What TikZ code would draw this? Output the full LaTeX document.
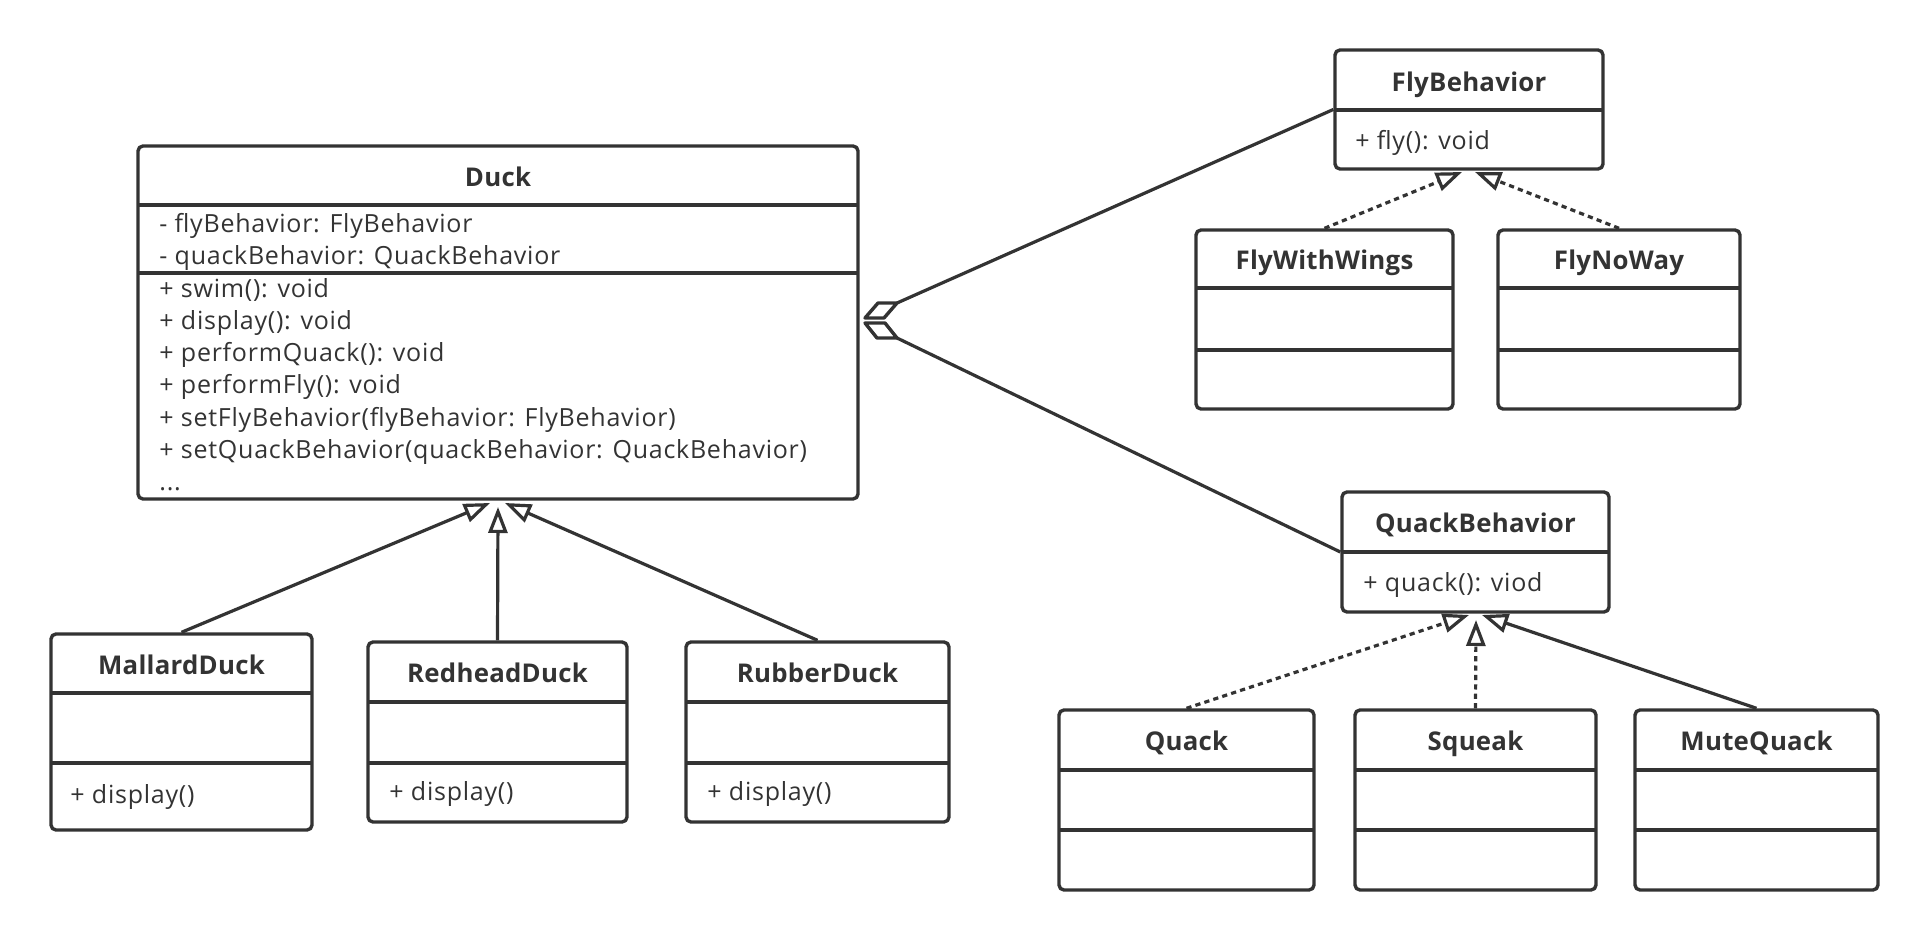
\documentclass[tikz,border=0pt]{standalone}
\usepackage{fontspec}
\setmainfont{Open Sans}
\newfontfamily\bodyf{Open Sans}[LetterSpace=3.0]
\newfontfamily\titlef{Open Sans}[LetterSpace=1.0]
\usetikzlibrary{arrows.meta}
\definecolor{ink}{HTML}{333333}
\tikzset{
  boxline/.style={draw=ink, line width=1.7pt, line join=round},
  classbox/.style={boxline, rounded corners=2.5pt, inner sep=0pt, fill=white},
  title/.style={text=ink, inner sep=0pt, anchor=base, font=\titlef\bfseries\fontsize{12.9pt}{15pt}\selectfont},
  member/.style={text=ink, inner sep=0pt, anchor=base west, font=\bodyf\fontsize{12.5pt}{14pt}\selectfont},
  conn/.style={draw=ink, line width=1.6pt},
  gen/.style={conn, -{Triangle[open, length=13pt, width=9.5pt]}},
  real/.style={gen, dash pattern=on 2.6pt off 2.1pt},
}
\newcommand\umlbox[5]{\node[classbox, minimum width={(#4-#2)*0.5pt}, minimum height={(#5-#3)*0.5pt}] (#1) at ({(#2+#4)/2},{(#3+#5)/2}) {};}
\newcommand\usep[3]{\draw[boxline] (#1,#3) -- (#2,#3);}
\begin{document}
\begin{tikzpicture}[x=0.5pt,y=-0.5pt]
\useasboundingbox (0,0) rectangle (1927,940);
\fill[white] (0,0) rectangle (1927,940);

% ---------- Duck ----------
\umlbox{duck}{138}{146}{858}{499}
\usep{138}{858}{205}
\usep{138}{858}{273}
\node[title] (duckT) at (498,187) {Duck};
\node[member] (duckA1) at (159,232.5) {- flyBehavior: FlyBehavior};
\node[member] (duckA2) at (159,264.8) {- quackBehavior: QuackBehavior};
\node[member] (duckM1) at (159,297.1) {+ swim(): void};
\node[member] (duckM2) at (159,329.4) {+ display(): void};
\node[member] (duckM3) at (159,361.7) {+ performQuack(): void};
\node[member] (duckM4) at (159,394.0) {+ performFly(): void};
\node[member] (duckM5) at (159,426.3) {+ setFlyBehavior(flyBehavior: FlyBehavior)};
\node[member] (duckM6) at (159,458.6) {+ setQuackBehavior(quackBehavior: QuackBehavior)};
\node[member] (duckM7) at (159,490.9) {...};

% ---------- FlyBehavior ----------
\umlbox{flyb}{1335}{50}{1603}{169}
\usep{1335}{1603}{110}
\node[title] (flybT) at (1469,92) {FlyBehavior};
\node[member] (flybM) at (1355,150) {+ fly(): void};

\umlbox{fww}{1196}{230}{1453}{409}
\usep{1196}{1453}{288}
\usep{1196}{1453}{350}
\node[title] (fwwT) at (1324.5,270) {FlyWithWings};

\umlbox{fnw}{1498}{230}{1740}{409}
\usep{1498}{1740}{288}
\usep{1498}{1740}{350}
\node[title] (fnwT) at (1619,270) {FlyNoWay};

% ---------- QuackBehavior ----------
\umlbox{quackb}{1342}{492}{1609}{612}
\usep{1342}{1609}{552}
\node[title] (quackbT) at (1475.5,532.7) {QuackBehavior};
\node[member] (quackbM) at (1363,591.7) {+ quack(): viod};

\umlbox{quack}{1059}{710}{1314}{890}
\usep{1059}{1314}{770}
\usep{1059}{1314}{830}
\node[title] (quackT) at (1186.5,750.7) {Quack};

\umlbox{squeak}{1355}{710}{1596}{890}
\usep{1355}{1596}{770}
\usep{1355}{1596}{830}
\node[title] (squeakT) at (1475.5,750.7) {Squeak};

\umlbox{mute}{1635}{710}{1878}{890}
\usep{1635}{1878}{770}
\usep{1635}{1878}{830}
\node[title] (muteT) at (1756.5,750.7) {MuteQuack};

% ---------- Duck subclasses ----------
\umlbox{mallard}{51}{634}{312}{830}
\usep{51}{312}{693}
\usep{51}{312}{763}
\node[title] (mallardT) at (181.5,674.3) {MallardDuck};
\node[member] (mallardM) at (70,803) {+ display()};

\umlbox{redhead}{368}{642}{627}{822}
\usep{368}{627}{702}
\usep{368}{627}{763}
\node[title] (redheadT) at (497.5,682.3) {RedheadDuck};
\node[member] (redheadM) at (389,800) {+ display()};

\umlbox{rubber}{686}{642}{949}{822}
\usep{686}{949}{702}
\usep{686}{949}{763}
\node[title] (rubberT) at (817.5,682.3) {RubberDuck};
\node[member] (rubberM) at (707,800) {+ display()};

% ---------- aggregation ----------
\coordinate (aggF) at (897,303);
\coordinate (aggQ) at (897,338);
\draw[boxline, fill=white] (865,318) -- (878,303) -- (aggF) -- (884,318) -- cycle;
\draw[boxline, fill=white] (865,323) -- (885,323) -- (aggQ) -- (877,338) -- cycle;
\draw[conn] (aggF) -- (flyb.west);
\draw[conn] (aggQ) -- (quackb.west);

% ---------- generalization / realization ----------
\coordinate (tipM) at (490,503);
\coordinate (tipR) at (498,507);
\coordinate (tipB) at (505,503);
\draw[gen] (mallard.north) -- (tipM);
\draw[gen] (redhead.north) -- (tipR);
\draw[gen] (rubber.north) -- (tipB);

\coordinate (tipFW) at (1462,172);
\coordinate (tipFN) at (1475,172);
\draw[real] (fww.north) -- (tipFW);
\draw[real] (fnw.north) -- (tipFN);

\coordinate (tipQ) at (1469,615);
\coordinate (tipS) at (1476,620);
\coordinate (tipMQ) at (1482,615);
\draw[real] (quack.north) -- (tipQ);
\draw[real] (squeak.north) -- (tipS);
\draw[gen] (mute.north) -- (tipMQ);
\end{tikzpicture}
\end{document}
